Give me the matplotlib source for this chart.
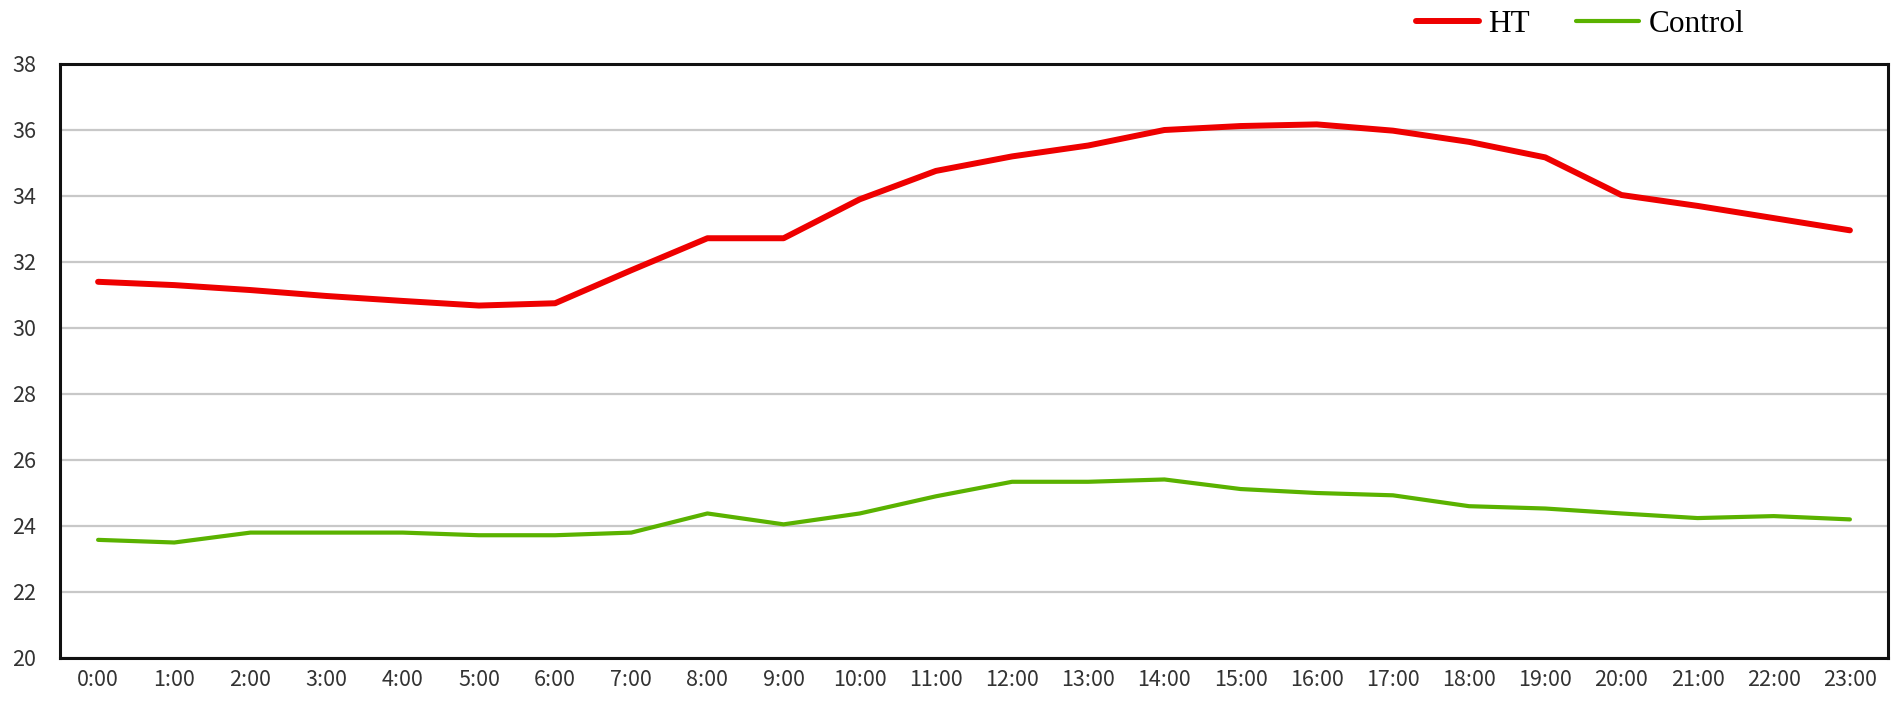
import matplotlib
matplotlib.use("Agg")
import matplotlib.pyplot as plt

# Datos
horas = [f"{h}:00" for h in range(24)]
ht = [31.4, 31.3, 31.15, 30.97, 30.82, 30.68, 30.75, 31.75, 32.72, 32.72,
      33.9, 34.76, 35.2, 35.53, 36.0, 36.12, 36.17, 35.98, 35.64, 35.17,
      34.03, 33.7, 33.33, 32.96]
control = [23.58, 23.5, 23.8, 23.8, 23.8, 23.72, 23.72, 23.8, 24.38, 24.05,
           24.38, 24.9, 25.34, 25.34, 25.41, 25.12, 25.0, 24.93, 24.6, 24.53,
           24.38, 24.24, 24.3, 24.2]
y_ticks = list(range(20, 39, 2))

fig = plt.figure(figsize=(19.02, 7.12), dpi=100)
ax = fig.add_axes([60 / 1902, 1 - 658 / 712, 1828 / 1902, 594 / 712])

x = list(range(len(horas)))
ax.plot(x, ht, color="#ee0000", lw=4.3, solid_capstyle="round", label="HT")
ax.plot(x, control, color="#5ab200", lw=3.0, solid_capstyle="round", label="Control")

ax.set_xlim(-0.5, len(horas) - 0.5)
ax.set_ylim(20, 38)
ax.set_xticks(x)
ax.set_xticklabels(horas)
ax.set_yticks(y_ticks)
ax.set_yticklabels([str(v) for v in y_ticks])
ax.tick_params(axis="both", length=0, labelsize=15.5, labelcolor="#333333")
ax.tick_params(axis="y", pad=17)
ax.tick_params(axis="x", pad=8)
for lab in ax.get_xticklabels() + ax.get_yticklabels():
    lab.set_family(["Noto Sans CJK KR", "DejaVu Sans"])

ax.yaxis.grid(True, color="#c8c8c8", lw=1.6)
ax.set_axisbelow(True)
for s in ax.spines.values():
    s.set_color("#111111")
    s.set_linewidth(2.2)

fig.legend(loc="center", bbox_to_anchor=(1580 / 1902, 1 - 24 / 712), ncol=2,
           frameon=False, prop={"family": "Liberation Serif", "size": 22.5},
           handlelength=2.0, columnspacing=1.5, handletextpad=0.3)

fig.savefig("out.png", dpi=100, facecolor="white")
